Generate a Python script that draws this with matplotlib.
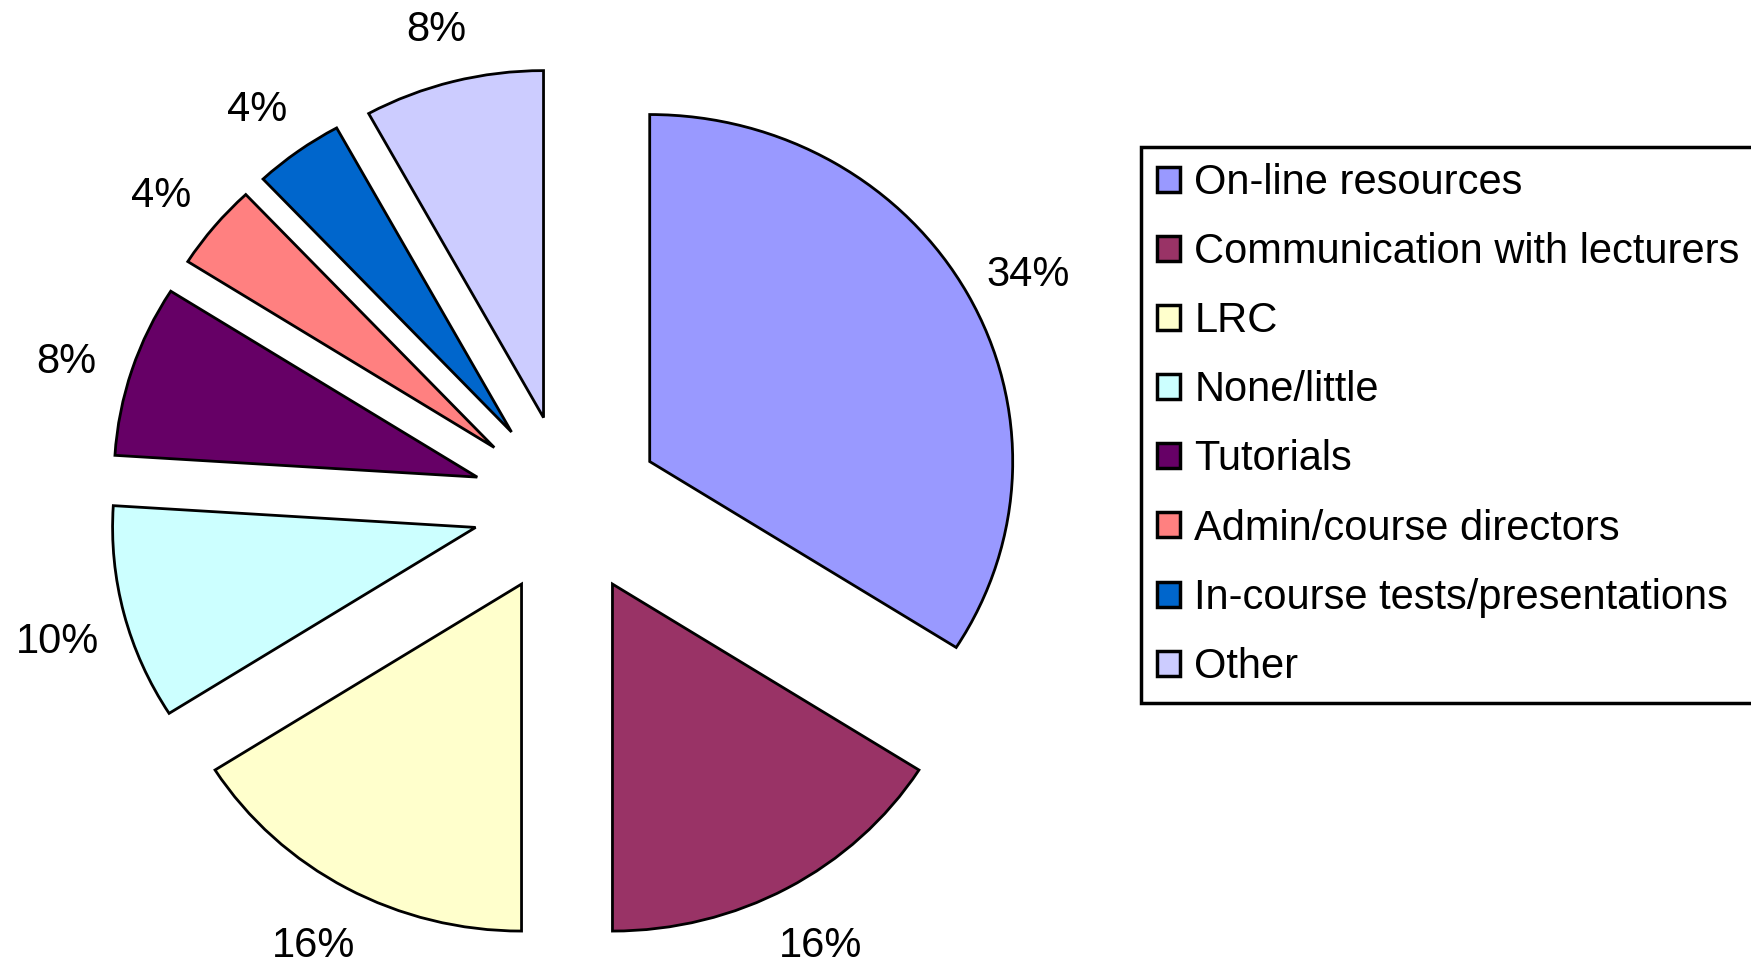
import matplotlib.pyplot as plt
import matplotlib.transforms as mtransforms

plt.rcParams['font.family'] = ['Liberation Sans', 'DejaVu Sans']

categories = ["On-line resources", "Communication with lecturers", "LRC", "None/little",
              "Tutorials", "Admin/course directors", "In-course tests/presentations", "Other"]
values = [34, 16, 16, 10, 8, 4, 4, 8]
colors = ['#9999FF', '#993366', '#FFFFCC', '#CCFFFF', '#660066', '#FF8080', '#0066CC', '#CCCCFF']

fig = plt.figure(figsize=(17.51, 9.74), dpi=100)
ax = fig.add_axes([0, 0, 1, 1])

wedges, texts, autotexts = ax.pie(
    values, colors=colors, startangle=90, counterclock=False,
    explode=[0.26] * len(values), autopct='%1.0f%%', pctdistance=1.19,
    wedgeprops=dict(edgecolor='black', linewidth=2),
    textprops=dict(fontsize=30, color='black'))

# labels in the upper part sit a little lower in the original
for t in autotexts:
    if t.get_position()[1] > -0.5:
        t.set_transform(mtransforms.offset_copy(t.get_transform(), fig=fig, x=0, y=-12, units='dots'))

# slightly wider than tall, like the original
ax.set_aspect('auto')
cx, cy, rx, ry = 567, 505, 363, 347
ax.set_xlim(-cx / rx, (1751 - cx) / rx)
ax.set_ylim(-(974 - cy) / ry, cy / ry)
ax.axis('off')

leg = ax.legend(wedges, categories, loc='upper left', bbox_to_anchor=(1141 / 1751, 1 - 147 / 974),
                bbox_transform=fig.transFigure, borderaxespad=0, fontsize=30,
                handlelength=0.55, handleheight=0.55, handletextpad=0.35,
                labelspacing=0.70, borderpad=0.38, fancybox=False, framealpha=1)
leg.get_frame().set_edgecolor('black')
leg.get_frame().set_linewidth(2.5)
for h in leg.legend_handles:
    h.set_edgecolor('black')
    h.set_linewidth(2.5)

fig.savefig('out.png', dpi=100)
